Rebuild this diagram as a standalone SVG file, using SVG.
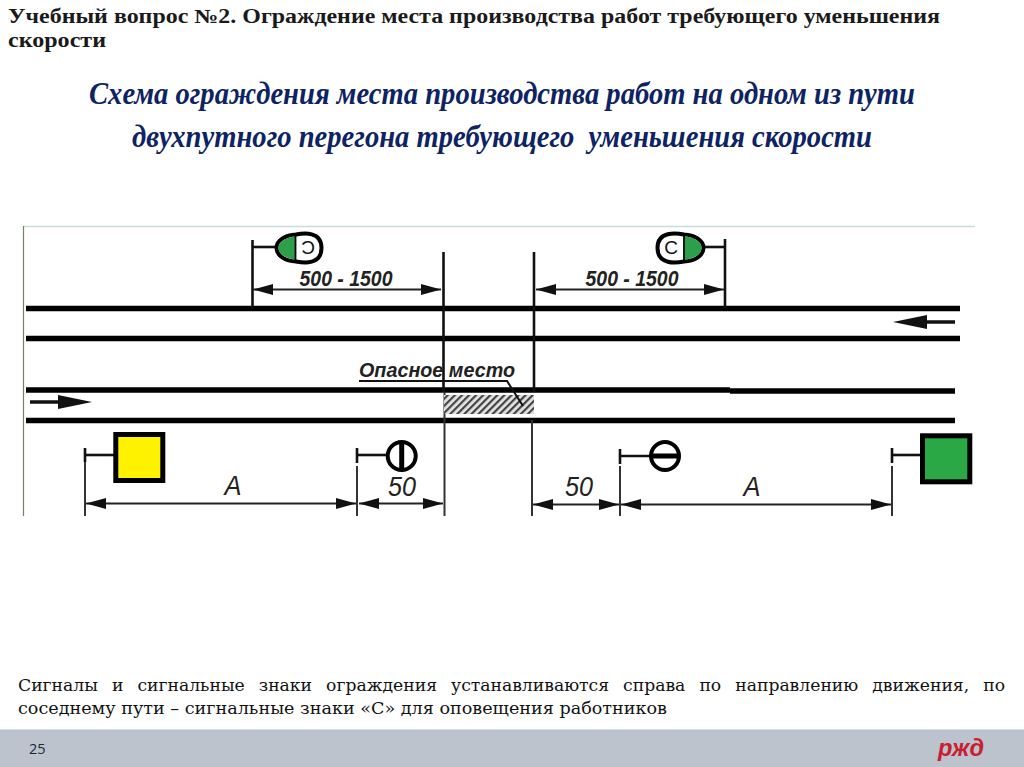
<svg xmlns="http://www.w3.org/2000/svg" width="1024" height="767" viewBox="0 0 1024 767">
<style>
.hd{font-family:"Liberation Serif",serif;font-weight:bold;font-size:20px;fill:#1a1a1a}
.tt{font-family:"Liberation Serif",serif;font-weight:bold;font-style:italic;font-size:31px;fill:#0d2363;text-anchor:middle;white-space:pre}
.dim{font-family:"Liberation Sans",sans-serif;font-style:italic;fill:#222;text-anchor:middle}
.ft{font-family:"DejaVu Serif",serif;font-size:16px;fill:#111}
.rail{stroke:#000;stroke-width:5.5;fill:none}
.ln{stroke:#111;stroke-width:2.6;fill:none}
.gl{stroke:#333;stroke-width:2;fill:none}
.th{stroke:#222;stroke-width:1.8;fill:none}
.ah{fill:#111}
.sign{fill:#fff;stroke:#000;stroke-width:4}
</style>
<defs>
<pattern id="hatch" width="5" height="5" patternUnits="userSpaceOnUse" patternTransform="rotate(45)">
<rect width="5" height="5" fill="#e4e4e4"/><rect width="2.200" height="5" fill="#444"/>
</pattern>
<marker id="dimL" markerWidth="22" markerHeight="12" refX="0" refY="6" orient="auto" markerUnits="userSpaceOnUse"><path d="M0 6L20 0.5V11.5Z" class="ah"/></marker>
<marker id="dimR" markerWidth="22" markerHeight="12" refX="20" refY="6" orient="auto" markerUnits="userSpaceOnUse"><path d="M0 0.5L20 6L0 11.5Z" class="ah"/></marker>
</defs>
<rect width="1024" height="767" fill="#fff"/>
<rect x="0" y="729.500" width="1024" height="37.500" fill="#bcc3cd"/>
<g id="heading">
<text class="hd" x="8" y="23" textLength="932" lengthAdjust="spacingAndGlyphs">Учебный вопрос №2. Ограждение места производства работ требующего уменьшения</text>
<text class="hd" x="8" y="47" textLength="98" lengthAdjust="spacingAndGlyphs">скорости</text>
</g>
<g id="title">
<text class="tt" x="502" y="104" textLength="826" lengthAdjust="spacingAndGlyphs">Схема ограждения места производства работ на одном из пути</text>
<text class="tt" x="502" y="147" textLength="740" lengthAdjust="spacingAndGlyphs">двухпутного перегона требующего  уменьшения скорости</text>
</g>
<g id="frame">
<path d="M23 226.500H975" stroke="#c5dedb" stroke-width="1.500" fill="none"/>
<path d="M23.500 226V516" stroke="#77806a" stroke-width="1.200" fill="none"/>
</g>
<g id="connectors">
<path class="rail" d="M26 308.500H960M26 338.500H960M26 390H730M730 391H955M26 420.500H955"/>
<path class="ln" d="M443.500 252V392M534 252V392M252.500 240V308M725 239V308"/>
<path class="gl" d="M444.500 392V516M532 420V516M85 460V516M357 466V516M620 466V516M892 466V516"/>
<path class="th" d="M253 289.500H441" marker-start="url(#dimL)" marker-end="url(#dimR)"/>
<path class="th" d="M536 289.500H724" marker-start="url(#dimL)" marker-end="url(#dimR)"/>
<path class="th" d="M86 503.500H356" marker-start="url(#dimL)" marker-end="url(#dimR)"/>
<path class="th" d="M359 503.500H443" marker-start="url(#dimL)" marker-end="url(#dimR)"/>
<path class="th" d="M533 504.500H619" marker-start="url(#dimL)" marker-end="url(#dimR)"/>
<path class="th" d="M621 504.500H891" marker-start="url(#dimL)" marker-end="url(#dimR)"/>
<path d="M30 402H65M955 322H925" stroke="#111" stroke-width="3.500" fill="none"/>
<path class="ah" d="M58 395L92 402L58 409ZM927 315L893 322L927 329Z"/>
</g>
<g id="danger-zone">
<rect x="444" y="395" width="90" height="19" fill="url(#hatch)"/>
<text class="dim" x="437" y="377" font-size="20" font-weight="bold" textLength="156" lengthAdjust="spacingAndGlyphs">Опасное  место</text>
<path d="M359 381H507L523 406" stroke="#111" stroke-width="2" fill="none"/>
</g>
<g id="sign-c-left">
<path class="ln" d="M253 247H278" stroke-width="3"/>
<path class="sign" d="M296 234.500C286 235 276.500 240 276.500 248C276.500 256 286 261 296 261.500C304 263 321.500 265 321.500 248C321.500 231 304 233 296 234.500Z"/>
<path d="M295 236.500C288 237 278.500 241 278.500 248C278.500 255 288 259 295 259.500Z" fill="#2ca048"/>
<path d="M295.500 236V260" stroke="#000" stroke-width="1.800"/>
<text x="308" y="247" font-family="Liberation Sans,sans-serif" font-size="19" fill="#111" text-anchor="middle" dominant-baseline="central" transform="rotate(180 308 247)">С</text>
</g>
<g id="sign-c-right">
<path class="ln" d="M702 247H725" stroke-width="3"/>
<path class="sign" d="M684 234.500C694 235 703.500 240 703.500 248C703.500 256 694 261 684 261.500C676 263 657.500 265 657.500 248C657.500 231 676 233 684 234.500Z"/>
<path d="M685 236.500C692 237 701.500 241 701.500 248C701.500 255 692 259 685 259.500Z" fill="#2ca048"/>
<path d="M684 236V260" stroke="#000" stroke-width="1.800"/>
<text x="671" y="247" font-family="Liberation Sans,sans-serif" font-size="19" fill="#111" text-anchor="middle" dominant-baseline="central">С</text>
</g>
<g id="signal-yellow">
<path class="ln" d="M85 448V462" stroke-width="3"/>
<path class="ln" d="M85 455H114" stroke-width="2.500"/>
<rect x="115.800" y="434.500" width="47" height="46" fill="#fff200" stroke="#000" stroke-width="5"/>
</g>
<g id="signal-green">
<path class="ln" d="M892 448V463" stroke-width="3"/>
<path class="ln" d="M892 455H921" stroke-width="2.500"/>
<rect x="922.500" y="435.800" width="47.300" height="46" fill="#2aa845" stroke="#000" stroke-width="5"/>
</g>
<g id="sign-left">
<path class="ln" d="M357 448V463" stroke-width="3"/>
<path class="ln" d="M357 455H387" stroke-width="2.500"/>
<circle cx="401.700" cy="456" r="14" fill="#fff" stroke="#000" stroke-width="4"/>
<path d="M401.700 442V470" stroke="#000" stroke-width="5"/>
</g>
<g id="sign-right">
<path class="ln" d="M620 449V464" stroke-width="3"/>
<path class="ln" d="M620 456H655" stroke-width="2.500"/>
<circle cx="665" cy="456" r="14" fill="#fff" stroke="#000" stroke-width="4"/>
<path d="M651 456H679" stroke="#000" stroke-width="5"/>
</g>
<g id="labels">
<text class="dim" x="346" y="286" font-size="22" font-weight="bold" textLength="93" lengthAdjust="spacingAndGlyphs">500 - 1500</text>
<text class="dim" x="632" y="286" font-size="22" font-weight="bold" textLength="93" lengthAdjust="spacingAndGlyphs">500 - 1500</text>
<text class="dim" x="233" y="495" font-size="27" textLength="17" lengthAdjust="spacingAndGlyphs">А</text>
<text class="dim" x="402" y="496" font-size="27" textLength="28" lengthAdjust="spacingAndGlyphs">50</text>
<text class="dim" x="579" y="496" font-size="27" textLength="28" lengthAdjust="spacingAndGlyphs">50</text>
<text class="dim" x="752" y="496" font-size="27" textLength="17" lengthAdjust="spacingAndGlyphs">А</text>
</g>
<g id="footer">
<text class="ft" x="18" y="691" word-spacing="8" textLength="987" lengthAdjust="spacingAndGlyphs">Сигналы и сигнальные знаки ограждения устанавливаются справа по направлению движения, по</text>
<text class="ft" x="18" y="714" textLength="649" lengthAdjust="spacingAndGlyphs">соседнему пути – сигнальные знаки «С» для оповещения работников</text>
<text x="29" y="754" font-family="Open Sans,sans-serif" font-size="14.500" fill="#1a2a3a">25</text>
<text x="961" y="756" font-family="Liberation Sans,sans-serif" font-size="24" font-weight="bold" font-style="italic" fill="#c8202f" text-anchor="middle" textLength="46" lengthAdjust="spacingAndGlyphs">ржд</text>
</g>
</svg>
